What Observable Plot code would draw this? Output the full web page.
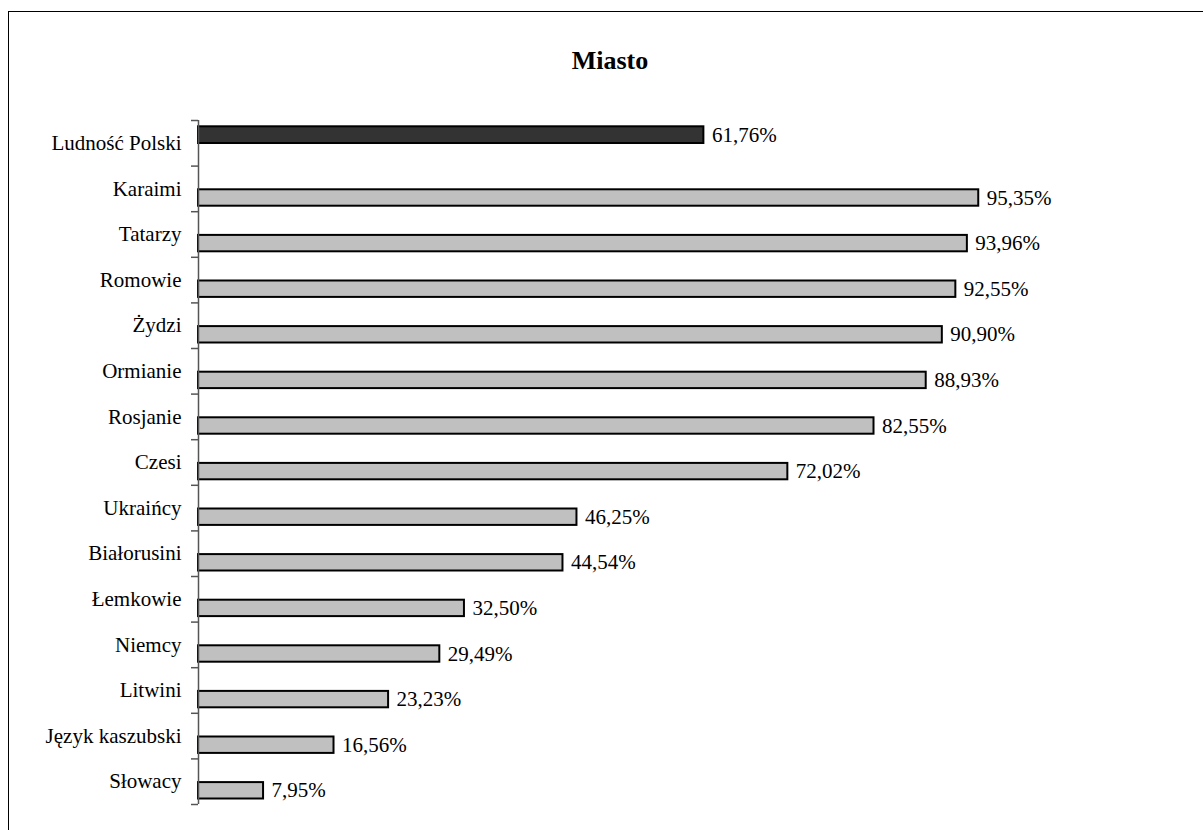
<!DOCTYPE html>
<html>
<head>
<meta charset="utf-8">
<script src="https://cdn.jsdelivr.net/npm/d3@7"></script>
<script src="https://cdn.jsdelivr.net/npm/@observablehq/plot@0.6"></script>
<style>
  html, body { margin: 0; padding: 0; background: #fff; overflow: hidden; }
  #page { position: relative; width: 1203px; height: 830px; overflow: hidden; }
  #frame { position: absolute; left: 8px; top: 11px; width: 1300px; height: 900px;
           border-left: 1.5px solid #000; border-top: 1.5px solid #000; box-sizing: border-box; }
  #title { position: absolute; left: 0; top: 48px; width: 1220px; text-align: center;
           font-family: "Liberation Serif", "Times New Roman", serif; font-weight: bold;
           font-size: 26px; line-height: 26px; color: #000; }
  #chart { position: absolute; left: 0; top: 100px; }
</style>
</head>
<body>
<div id="page">
  <div id="frame"></div>
  <div id="title">Miasto</div>
  <div id="chart"></div>
</div>
<script>
// Data
const categories = ["Ludność Polski", "Karaimi", "Tatarzy", "Romowie", "Żydzi", "Ormianie", "Rosjanie", "Czesi", "Ukraińcy", "Białorusini", "Łemkowie", "Niemcy", "Litwini", "Język kaszubski", "Słowacy"];
const values = [61.76, 95.35, 93.96, 92.55, 90.90, 88.93, 82.55, 72.02, 46.25, 44.54, 32.50, 29.49, 23.23, 16.56, 7.95];
const series = ["ogół", "grupa", "grupa", "grupa", "grupa", "grupa", "grupa", "grupa", "grupa", "grupa", "grupa", "grupa", "grupa", "grupa", "grupa"];

const data = categories.map((c, i) => ({category: c, value: values[i], series: series[i]}));
const total = data.filter(d => d.series === "ogół");
const groups = data.filter(d => d.series === "grupa");

const width = 1203, height = 720;
const marginTop = 20, marginBottom = 16, marginLeft = 198, marginRight = 186.7;
const bw = (height - marginTop - marginBottom) / categories.length;
const fmt = d => d.value.toFixed(2).replace(".", ",") + "%";

const chart = Plot.plot({
  width, height, marginTop, marginBottom, marginLeft, marginRight,
  style: {fontFamily: "Liberation Serif, Times New Roman, serif", fontSize: "21px", background: "transparent", color: "#000"},
  x: {domain: [0, 100], axis: null},
  y: {domain: categories, padding: 0, round: false, label: null},
  marks: [
    Plot.barX(total, {x: "value", y: "category", fill: "#333333", stroke: "#000", strokeWidth: 2, insetTop: 6.3, insetBottom: 22.6}),
    Plot.barX(groups, {x: "value", y: "category", fill: "#c0c0c0", stroke: "#000", strokeWidth: 2, insetTop: 23.7, insetBottom: 5.5}),
    Plot.text(total, {x: "value", y: "category", text: fmt, textAnchor: "start", dx: 8, dy: -8.1, fill: "#000"}),
    Plot.text(groups, {x: "value", y: "category", text: fmt, textAnchor: "start", dx: 8, dy: 9, fill: "#000"}),
    Plot.ruleX([0], {stroke: "#555", strokeWidth: 1.5}),
    Plot.axisY({tickSize: 0, tickPadding: 17, fill: "#000", fontSize: 21, label: null}),
    Plot.axisY({tickSize: 7, text: null, dy: -bw / 2, stroke: "#555", strokeWidth: 1.5, label: null}),
    Plot.axisY(categories.slice(-1), {tickSize: 7, text: null, dy: bw / 2, stroke: "#555", strokeWidth: 1.5, label: null})
  ]
});
document.getElementById("chart").appendChild(chart);
</script>
</body>
</html>
